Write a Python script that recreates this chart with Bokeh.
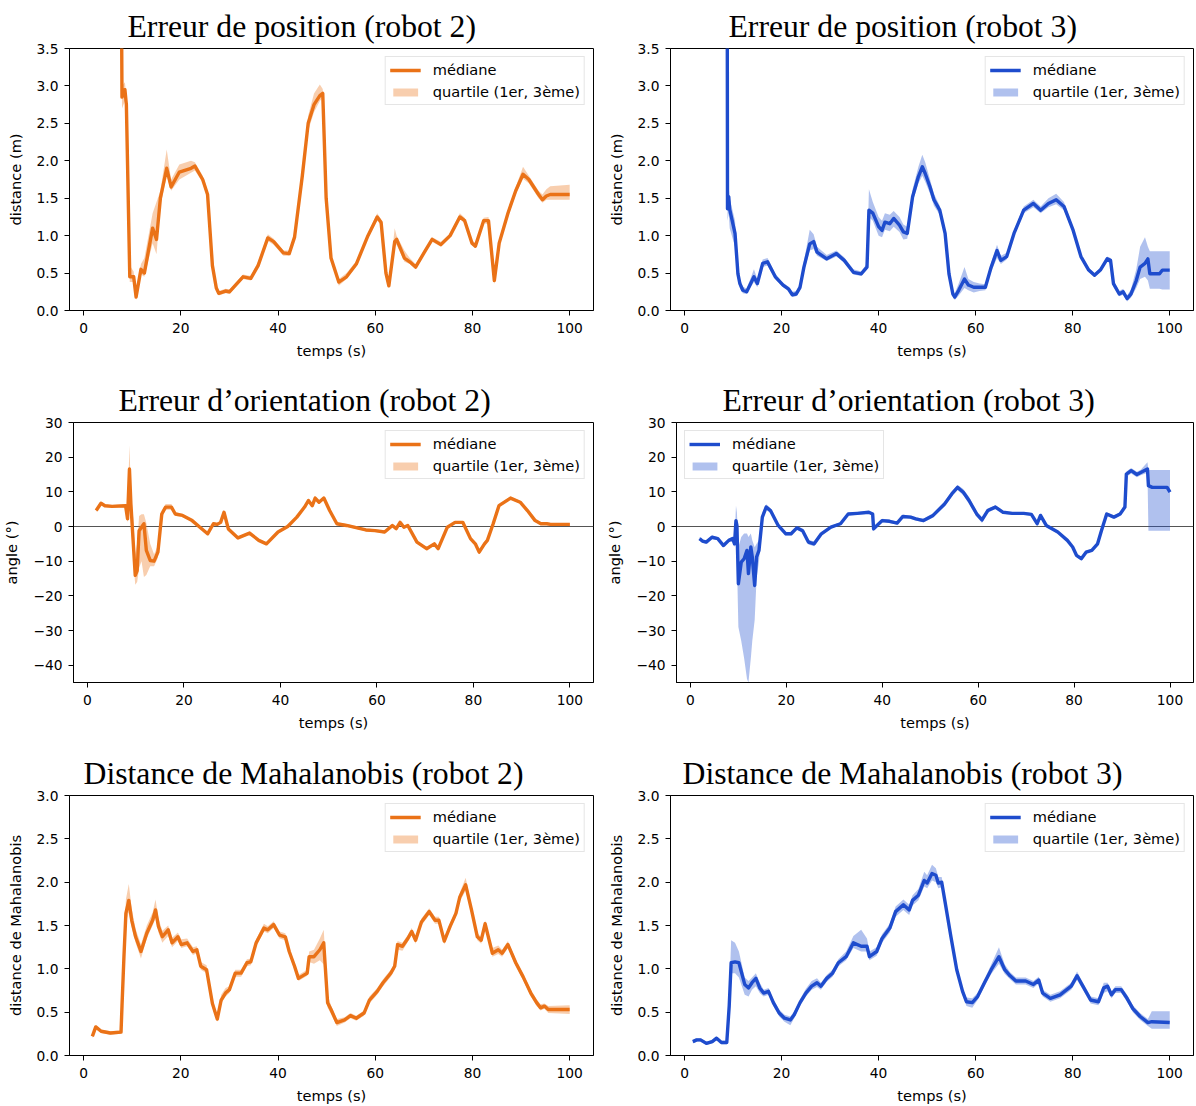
from bokeh.plotting import figure
from bokeh.layouts import column, row
from bokeh.models import (Range1d, FixedTicker, CustomJSTickFormatter, Legend,
                          LegendItem, Span, Title)
from bokeh.embed import file_html
from bokeh.resources import INLINE

# ---------------- data ----------------
x_ticks = [0, 20, 40, 60, 80, 100]
pos_ticks = [0.0, 0.5, 1.0, 1.5, 2.0, 2.5, 3.0, 3.5]
ang_ticks = [-40, -30, -20, -10, 0, 10, 20, 30]
mah_ticks = [0.0, 0.5, 1.0, 1.5, 2.0, 2.5, 3.0]

titles = ["Erreur de position (robot 2)", "Erreur de position (robot 3)",
          "Erreur d\u2019orientation (robot 2)", "Erreur d\u2019orientation (robot 3)",
          "Distance de Mahalanobis (robot 2)", "Distance de Mahalanobis (robot 3)"]
ylabels = ["distance (m)", "angle (\u00b0)", "distance de Mahalanobis"]
xlabel = "temps (s)"
lbl_med = "m\u00e9diane"
lbl_q = "quartile (1er, 3\u00e8me)"

# position error, robot 2
t_pos2 = [7.8, 7.9, 8.5, 8.8, 9.5, 10.3, 10.8, 11.8, 12.5, 14.2,
          15.0, 15.8, 17.1, 18.0, 19.7, 22.1, 22.9, 24.5, 25.5, 26.5,
          27.3, 27.8, 29.2, 30.0, 32.8, 34.4, 35.9, 37.9, 39.1, 41.1,
          42.3, 43.4, 45.0, 46.2, 47.4, 48.6, 49.2, 49.9, 50.9, 52.5,
          54.1, 56.1, 58.5, 60.4, 61.2, 62.2, 62.8, 64.0, 64.4, 66.0,
          67.1, 68.3, 70.3, 71.7, 73.5, 75.4, 77.4, 78.4, 79.9, 80.6,
          82.3, 83.3, 84.5, 85.5, 87.3, 88.9, 90.4, 91.6, 93.6, 94.4,
          95.2, 96.0, 100.0]
med_pos2 = [4.0, 2.85, 2.95, 2.75, 0.45, 0.45, 0.18, 0.55, 0.5, 1.1,
            0.95, 1.5, 1.9, 1.65, 1.85, 1.9, 1.93, 1.75, 1.55, 0.6,
            0.3, 0.23, 0.26, 0.25, 0.45, 0.43, 0.6, 0.97, 0.92, 0.77,
            0.76, 0.98, 1.8, 2.5, 2.75, 2.87, 2.9, 1.5, 0.7, 0.38,
            0.45, 0.62, 1.0, 1.25, 1.18, 0.5, 0.33, 0.92, 0.95, 0.7,
            0.65, 0.58, 0.8, 0.95, 0.88, 1.0, 1.25, 1.2, 0.9, 0.86,
            1.2, 1.2, 0.4, 0.9, 1.3, 1.6, 1.82, 1.75, 1.55, 1.48,
            1.53, 1.55, 1.55]
q1_pos2 = [3.8, 2.7, 2.8, 2.6, 0.38, 0.38, 0.14, 0.48, 0.45, 0.9,
           0.75, 1.4, 1.8, 1.6, 1.75, 1.84, 1.87, 1.71, 1.51, 0.55,
           0.27, 0.2, 0.23, 0.22, 0.42, 0.4, 0.57, 0.93, 0.88, 0.73,
           0.73, 0.95, 1.75, 2.4, 2.65, 2.8, 2.84, 1.45, 0.66, 0.33,
           0.42, 0.59, 0.97, 1.2, 1.14, 0.46, 0.3, 0.85, 0.88, 0.65,
           0.62, 0.55, 0.77, 0.92, 0.85, 0.97, 1.22, 1.17, 0.87, 0.83,
           1.17, 1.15, 0.35, 0.85, 1.25, 1.55, 1.76, 1.7, 1.5, 1.44,
           1.48, 1.48, 1.48]
q3_pos2 = [4.2, 3.0, 3.05, 2.85, 0.6, 0.52, 0.25, 0.62, 0.7, 1.3,
           1.45, 1.6, 2.15, 1.75, 1.95, 2.0, 1.98, 1.8, 1.6, 0.66,
           0.34, 0.26, 0.29, 0.28, 0.48, 0.46, 0.65, 1.02, 0.96, 0.8,
           0.8, 1.02, 1.85, 2.6, 2.9, 3.02, 2.96, 1.55, 0.75, 0.42,
           0.5, 0.66, 1.03, 1.3, 1.22, 0.55, 0.37, 1.1, 1.0, 0.8,
           0.7, 0.62, 0.83, 0.98, 0.92, 1.03, 1.3, 1.24, 0.94, 0.9,
           1.24, 1.25, 0.45, 0.95, 1.35, 1.65, 1.92, 1.8, 1.6, 1.55,
           1.62, 1.66, 1.68]

# position error, robot 3
t_pos3 = [8.8, 8.85, 9.1, 9.3, 10.4, 11.0, 11.4, 12.0, 12.8, 14.3,
          15.0, 16.1, 17.1, 18.7, 20.3, 21.4, 22.2, 23.0, 23.8, 24.6,
          25.8, 26.6, 27.3, 29.3, 31.3, 32.9, 34.8, 36.4, 37.6, 38.0,
          38.8, 40.0, 40.7, 41.3, 42.3, 43.1, 44.3, 45.1, 45.9, 47.0,
          48.2, 49.0, 49.6, 50.6, 51.4, 52.6, 53.7, 54.5, 55.3, 55.7,
          56.5, 57.7, 58.5, 59.6, 60.8, 62.0, 63.2, 64.4, 65.2, 66.4,
          67.9, 69.9, 71.9, 73.4, 75.0, 76.6, 78.2, 80.1, 81.7, 83.3,
          84.5, 85.7, 87.1, 87.8, 88.4, 89.6, 90.4, 91.2, 92.0, 93.1,
          93.9, 94.9, 95.5, 95.9, 97.9, 98.5, 100.0]
med_pos3 = [4.0, 1.36, 1.52, 1.35, 1.03, 0.49, 0.36, 0.27, 0.25, 0.45,
            0.36, 0.63, 0.65, 0.45, 0.34, 0.29, 0.21, 0.22, 0.31, 0.58,
            0.89, 0.92, 0.78, 0.69, 0.76, 0.67, 0.51, 0.49, 0.58, 1.34,
            1.3, 1.12, 1.07, 1.18, 1.16, 1.23, 1.14, 1.05, 1.03, 1.52,
            1.79, 1.92, 1.83, 1.65, 1.48, 1.34, 1.03, 0.49, 0.22, 0.18,
            0.27, 0.42, 0.34, 0.31, 0.31, 0.31, 0.58, 0.8, 0.67, 0.72,
            1.03, 1.34, 1.43, 1.34, 1.43, 1.48, 1.39, 1.07, 0.72, 0.54,
            0.47, 0.54, 0.69, 0.67, 0.36, 0.22, 0.25, 0.16, 0.22, 0.4,
            0.58, 0.63, 0.69, 0.49, 0.49, 0.54, 0.54]
q1_pos3 = [3.8, 1.2, 1.3, 1.1, 0.85, 0.42, 0.3, 0.23, 0.22, 0.38,
           0.31, 0.58, 0.6, 0.42, 0.31, 0.26, 0.18, 0.19, 0.27, 0.52,
           0.8, 0.82, 0.73, 0.66, 0.72, 0.64, 0.48, 0.46, 0.55, 1.25,
           1.2, 1.0, 0.98, 1.08, 1.06, 1.12, 1.05, 0.95, 0.96, 1.45,
           1.7, 1.8, 1.72, 1.56, 1.4, 1.28, 0.98, 0.45, 0.18, 0.14,
           0.2, 0.3, 0.27, 0.24, 0.26, 0.27, 0.52, 0.7, 0.62, 0.68,
           0.99, 1.3, 1.38, 1.3, 1.38, 1.42, 1.34, 1.03, 0.69, 0.51,
           0.45, 0.51, 0.65, 0.63, 0.32, 0.19, 0.21, 0.12, 0.17, 0.3,
           0.42, 0.45, 0.4, 0.29, 0.29, 0.28, 0.28]
q3_pos3 = [4.2, 1.6, 1.65, 1.5, 1.2, 0.6, 0.42, 0.32, 0.29, 0.55,
           0.42, 0.68, 0.7, 0.49, 0.37, 0.32, 0.25, 0.26, 0.36, 0.66,
           1.08, 1.02, 0.85, 0.74, 0.8, 0.71, 0.55, 0.52, 0.63, 1.62,
           1.45, 1.25, 1.2, 1.3, 1.28, 1.33, 1.25, 1.15, 1.12, 1.62,
           1.92, 2.08, 1.98, 1.75, 1.56, 1.4, 1.08, 0.55, 0.27, 0.23,
           0.36, 0.58, 0.42, 0.38, 0.36, 0.35, 0.64, 0.88, 0.73, 0.77,
           1.07, 1.39, 1.48, 1.39, 1.5, 1.56, 1.45, 1.11, 0.75, 0.57,
           0.5, 0.57, 0.72, 0.7, 0.4, 0.26, 0.29, 0.2, 0.28, 0.55,
           0.85, 0.98, 0.85, 0.79, 0.79, 0.79, 0.79]

# orientation error, robot 2
t_ori2 = [1.8, 2.8, 3.6, 5.1, 7.9, 8.3, 8.7, 9.0, 9.5, 9.9,
          10.3, 10.7, 11.2, 11.7, 12.2, 13.0, 13.8, 14.6, 15.4, 16.2,
          17.4, 18.2, 19.7, 21.7, 23.3, 24.9, 26.1, 26.9, 27.6, 28.3,
          29.2, 31.2, 33.6, 35.5, 37.1, 39.5, 41.5, 43.4, 45.0, 45.8,
          46.6, 47.2, 48.0, 49.0, 50.2, 51.7, 53.7, 57.7, 59.6, 61.6,
          63.2, 64.0, 64.8, 65.6, 66.4, 68.3, 70.3, 71.9, 72.7, 74.6,
          76.2, 77.8, 79.4, 80.4, 81.2, 82.3, 82.9, 84.1, 85.3, 87.7,
          89.7, 91.2, 92.8, 94.0, 95.2, 96.0, 100.0]
med_ori2 = [4.6, 6.7, 6.0, 5.8, 6.0, 2.2, 16.6, 6.5, -5.0, -14.1,
            -12.7, -1.2, -0.2, 0.8, -6.9, -9.8, -10.0, -7.4, 3.6, 5.6,
            5.6, 3.6, 3.2, 1.7, -0.2, -2.1, 0.8, 0.6, 1.2, 4.1,
            -0.7, -3.3, -1.9, -4.0, -5.0, -1.6, 0.0, 2.7, 5.6, 7.5,
            6.0, 8.2, 7.0, 8.2, 4.6, 0.8, 0.3, -1.0, -1.2, -1.6,
            0.3, -0.6, 1.2, -0.2, 0.3, -4.5, -6.4, -5.0, -6.4, -0.2,
            1.2, 1.2, -3.5, -5.0, -7.4, -5.0, -4.0, 0.8, 6.0, 8.2,
            7.0, 4.6, 1.7, 0.8, 0.8, 0.6, 0.6]
q1_ori2 = [4.2, 6.3, 5.6, 5.4, 5.5, 1.0, 10.0, 2.0, -10.0, -16.8,
           -16.0, -12.0, -10.0, -14.6, -14.0, -11.5, -11.5, -9.0, 2.5, 4.8,
           4.8, 3.0, 2.8, 1.3, -0.6, -2.5, 0.3, 0.2, 0.8, 3.5,
           -1.2, -3.7, -2.3, -4.4, -5.4, -2.0, -0.4, 2.3, 5.1, 7.0,
           5.5, 7.7, 6.5, 7.7, 4.2, 0.4, -0.1, -1.4, -1.6, -2.0,
           -0.2, -1.0, 0.7, -0.6, -0.1, -4.9, -6.8, -5.4, -6.8, -0.6,
           0.8, 0.8, -3.9, -5.4, -7.9, -5.4, -4.4, 0.4, 5.6, 7.8,
           6.6, 4.2, 1.3, 0.4, 0.4, 0.2, 0.2]
q3_ori2 = [5.0, 7.1, 6.4, 6.2, 6.5, 4.0, 23.5, 10.0, 2.0, -8.0,
           -5.0, 3.0, 3.5, 3.5, 1.0, -5.0, -8.0, -5.5, 4.6, 6.5,
           6.5, 4.2, 3.6, 2.1, 0.2, -1.7, 1.3, 1.0, 1.6, 4.7,
           -0.2, -2.9, -1.5, -3.6, -4.6, -1.2, 0.4, 3.1, 6.1, 8.0,
           6.5, 8.7, 7.5, 8.7, 5.0, 1.2, 0.7, -0.6, -0.8, -1.2,
           0.8, -0.2, 1.7, 0.2, 0.7, -4.1, -6.0, -4.6, -6.0, 0.2,
           1.6, 1.6, -3.1, -4.6, -6.9, -4.6, -3.6, 1.2, 6.4, 8.6,
           7.4, 5.0, 2.1, 1.2, 1.2, 1.0, 1.0]

# orientation error, robot 3
t_ori3 = [1.9, 2.5, 3.3, 4.5, 5.7, 6.9, 8.0, 8.8, 9.2, 9.5,
          9.7, 10.0, 10.6, 11.2, 11.8, 12.1, 12.6, 12.9, 13.4, 13.8,
          14.3, 15.0, 15.8, 16.7, 18.3, 19.9, 21.0, 22.2, 23.4, 24.6,
          25.8, 27.3, 29.3, 31.3, 32.9, 34.8, 37.2, 38.0, 38.2, 38.9,
          40.0, 41.5, 43.1, 44.3, 45.9, 47.0, 48.6, 50.6, 53.0, 54.5,
          55.7, 56.9, 58.1, 59.7, 60.8, 62.0, 63.6, 65.2, 67.1, 69.5,
          71.1, 72.3, 73.0, 74.2, 76.6, 78.6, 79.7, 80.5, 81.5, 82.5,
          83.7, 84.9, 85.7, 86.8, 88.3, 89.6, 90.6, 90.9, 91.9, 93.1,
          93.9, 95.3, 95.5, 96.3, 99.4, 100.0]
med_ori3 = [-3.5, -4.2, -4.5, -3.1, -3.5, -5.5, -4.0, -3.5, -5.0, 1.7,
            0.3, -16.5, -10.3, -9.3, -6.9, -13.6, -5.9, -8.8, -17.0, -8.8,
            -6.9, 2.7, 5.6, 4.6, 0.3, -2.1, -2.1, -0.4, -1.2, -4.5,
            -5.0, -2.1, -0.2, 0.8, 3.6, 3.8, 4.1, 3.6, -0.7, 0.3,
            1.7, 1.5, 1.0, 2.9, 2.7, 2.2, 1.7, 3.2, 6.5, 9.4,
            11.3, 9.9, 7.5, 3.6, 1.9, 4.6, 5.6, 4.1, 3.8, 3.8,
            3.5, 0.8, 3.2, 0.3, -1.6, -4.0, -5.9, -8.3, -9.3, -7.4,
            -6.9, -5.0, -1.2, 3.6, 2.7, 3.6, 5.6, 15.1, 16.1, 15.0,
            15.6, 16.6, 11.8, 11.3, 11.3, 9.9]
q1_ori3 = [-4.0, -4.7, -5.0, -3.6, -4.0, -6.0, -4.5, -4.0, -6.0, -3.0,
           -10.0, -29.0, -33.0, -38.0, -44.0, -45.0, -38.0, -33.0, -27.0, -15.0,
           -10.0, 1.5, 4.8, 3.9, -0.3, -2.6, -2.6, -0.9, -1.8, -5.2,
           -5.7, -2.6, -0.6, 0.4, 3.2, 3.4, 3.7, 3.2, -1.3, -0.2,
           1.2, 1.0, 0.6, 2.4, 2.2, 1.7, 1.2, 2.6, 5.8, 8.7,
           10.5, 9.0, 6.5, 2.8, 1.0, 4.0, 5.1, 3.7, 3.4, 3.4,
           3.1, 0.2, 2.7, -0.2, -2.0, -4.4, -6.3, -8.7, -9.8, -7.8,
           -7.3, -5.4, -1.6, 3.1, 2.2, 3.1, 5.0, 14.3, 15.3, 14.2,
           14.8, 15.5, -1.2, -1.2, -1.2, -1.2]
q3_ori3 = [-3.0, -3.7, -4.0, -2.6, -3.0, -5.0, -3.5, -3.0, -4.0, 6.0,
           4.0, -6.0, -3.0, -2.0, -2.0, -3.0, -2.0, -4.0, -6.0, -5.0,
           -4.0, 4.0, 6.4, 5.3, 0.9, -1.6, -1.6, 0.1, -0.6, -3.8,
           -4.3, -1.6, 0.2, 1.2, 4.0, 4.2, 4.5, 4.0, -0.1, 0.8,
           2.2, 2.0, 1.4, 3.4, 3.2, 2.7, 2.2, 3.8, 7.2, 10.1,
           12.0, 10.8, 8.5, 4.4, 2.6, 5.2, 6.1, 4.5, 4.2, 4.2,
           3.9, 1.4, 3.7, 0.8, -1.2, -3.6, -5.5, -7.9, -8.8, -7.0,
           -6.5, -4.6, -0.8, 4.1, 3.2, 4.1, 6.2, 15.9, 16.9, 15.8,
           16.4, 18.5, 16.3, 16.3, 16.3, 16.3]

# Mahalanobis distance, robot 2
t_mah2 = [1.8, 2.5, 3.6, 5.5, 7.7, 7.9, 8.3, 8.7, 9.3, 9.9,
          10.7, 11.8, 13.0, 14.2, 14.8, 15.4, 16.2, 17.4, 18.2, 19.4,
          20.1, 21.3, 22.5, 23.3, 24.1, 25.3, 26.5, 27.5, 28.3, 29.2,
          30.0, 31.2, 32.4, 33.6, 34.4, 35.5, 37.1, 37.9, 39.1, 40.3,
          41.5, 42.3, 43.4, 44.2, 45.4, 46.0, 46.4, 47.4, 48.6, 49.4,
          50.2, 50.9, 52.1, 53.7, 54.9, 56.1, 57.7, 58.8, 60.4, 61.6,
          63.2, 64.0, 64.6, 65.6, 66.7, 67.5, 68.3, 69.5, 71.1, 72.3,
          73.1, 74.2, 75.4, 76.6, 77.4, 78.6, 79.8, 81.0, 81.8, 82.6,
          84.1, 85.3, 86.1, 87.3, 88.9, 90.4, 92.0, 93.2, 94.0, 94.8,
          95.6, 100.0]
med_mah2 = [0.22, 0.33, 0.28, 0.26, 0.27, 0.57, 1.14, 1.64, 1.79, 1.56,
            1.37, 1.2, 1.41, 1.56, 1.68, 1.49, 1.37, 1.45, 1.3, 1.37,
            1.28, 1.3, 1.2, 1.22, 1.03, 0.99, 0.6, 0.42, 0.64, 0.72,
            0.76, 0.95, 0.95, 1.07, 1.08, 1.3, 1.47, 1.45, 1.51, 1.39,
            1.37, 1.2, 1.03, 0.89, 0.93, 0.95, 1.14, 1.14, 1.22, 1.3,
            0.61, 0.53, 0.38, 0.41, 0.46, 0.43, 0.49, 0.64, 0.74, 0.84,
            0.95, 1.03, 1.28, 1.26, 1.35, 1.43, 1.33, 1.54, 1.66, 1.56,
            1.56, 1.32, 1.49, 1.64, 1.83, 1.97, 1.68, 1.37, 1.33, 1.52,
            1.18, 1.22, 1.18, 1.28, 1.07, 0.91, 0.72, 0.61, 0.55, 0.57,
            0.53, 0.53]
q1_mah2 = [0.2, 0.31, 0.26, 0.24, 0.25, 0.5, 1.05, 1.55, 1.65, 1.48,
           1.3, 1.12, 1.35, 1.5, 1.58, 1.42, 1.3, 1.38, 1.25, 1.32,
           1.24, 1.26, 1.16, 1.18, 0.99, 0.95, 0.56, 0.39, 0.6, 0.68,
           0.72, 0.91, 0.91, 1.03, 1.04, 1.26, 1.43, 1.41, 1.47, 1.35,
           1.33, 1.16, 0.99, 0.86, 0.9, 0.92, 1.08, 1.06, 1.1, 1.05,
           0.55, 0.48, 0.34, 0.38, 0.43, 0.4, 0.46, 0.6, 0.7, 0.8,
           0.91, 0.99, 1.22, 1.21, 1.31, 1.39, 1.29, 1.5, 1.62, 1.52,
           1.52, 1.28, 1.45, 1.6, 1.78, 1.9, 1.63, 1.33, 1.29, 1.48,
           1.14, 1.17, 1.14, 1.24, 1.03, 0.87, 0.68, 0.57, 0.52, 0.54,
           0.49, 0.48]
q3_mah2 = [0.24, 0.35, 0.3, 0.28, 0.29, 0.65, 1.25, 1.8, 1.98, 1.7,
           1.46, 1.28, 1.5, 1.65, 1.8, 1.58, 1.44, 1.5, 1.36, 1.42,
           1.34, 1.35, 1.25, 1.26, 1.08, 1.04, 0.65, 0.46, 0.7, 0.78,
           0.8, 0.99, 0.99, 1.11, 1.12, 1.34, 1.52, 1.49, 1.55, 1.43,
           1.41, 1.24, 1.07, 0.93, 0.97, 0.99, 1.2, 1.22, 1.35, 1.45,
           0.7, 0.58, 0.42, 0.44, 0.49, 0.46, 0.52, 0.68, 0.78, 0.88,
           0.99, 1.07, 1.32, 1.3, 1.39, 1.47, 1.37, 1.58, 1.7, 1.6,
           1.6, 1.36, 1.53, 1.68, 1.88, 2.05, 1.73, 1.41, 1.37, 1.56,
           1.24, 1.27, 1.22, 1.32, 1.11, 0.95, 0.76, 0.65, 0.59, 0.6,
           0.57, 0.58]

# Mahalanobis distance, robot 3
t_mah3 = [1.7, 2.5, 3.3, 4.5, 5.7, 6.6, 7.6, 8.7, 9.2, 9.6,
          10.4, 11.2, 12.4, 13.2, 13.9, 14.7, 15.5, 16.3, 17.3, 18.3,
          19.5, 20.6, 21.8, 22.6, 23.8, 25.0, 26.2, 27.3, 28.1, 29.3,
          30.5, 31.7, 33.3, 34.8, 36.4, 37.6, 38.1, 39.6, 40.7, 42.3,
          43.5, 45.1, 46.3, 47.0, 48.2, 49.4, 50.0, 51.0, 51.8, 52.3,
          53.0, 53.7, 54.9, 56.1, 57.3, 58.1, 59.3, 60.4, 62.0, 63.2,
          64.8, 66.0, 67.1, 68.3, 70.3, 71.9, 73.0, 73.8, 75.4, 77.4,
          79.7, 80.9, 82.1, 83.7, 85.3, 86.4, 87.2, 88.0, 88.8, 90.0,
          91.2, 92.4, 93.9, 95.5, 96.3, 100.0]
med_mah3 = [0.16, 0.18, 0.18, 0.14, 0.16, 0.2, 0.15, 0.15, 0.57, 1.07,
            1.08, 1.07, 0.82, 0.78, 0.84, 0.89, 0.78, 0.72, 0.74, 0.61,
            0.49, 0.43, 0.41, 0.47, 0.61, 0.72, 0.8, 0.84, 0.8, 0.89,
            0.95, 1.07, 1.14, 1.3, 1.26, 1.26, 1.14, 1.2, 1.35, 1.47,
            1.66, 1.74, 1.68, 1.79, 1.85, 2.02, 1.99, 2.1, 2.08, 1.99,
            2.0, 1.77, 1.37, 0.99, 0.74, 0.62, 0.61, 0.68, 0.86, 0.99,
            1.14, 0.99, 0.92, 0.86, 0.86, 0.82, 0.87, 0.72, 0.66, 0.7,
            0.8, 0.92, 0.8, 0.64, 0.62, 0.78, 0.8, 0.7, 0.76, 0.76,
            0.66, 0.54, 0.45, 0.38, 0.39, 0.38]
q1_mah3 = [0.14, 0.16, 0.16, 0.12, 0.14, 0.18, 0.13, 0.13, 0.5, 0.95,
           0.95, 0.9, 0.7, 0.68, 0.76, 0.8, 0.72, 0.68, 0.7, 0.57,
           0.45, 0.39, 0.35, 0.43, 0.57, 0.68, 0.76, 0.79, 0.76, 0.85,
           0.91, 1.03, 1.1, 1.24, 1.2, 1.2, 1.1, 1.15, 1.3, 1.42,
           1.6, 1.68, 1.62, 1.73, 1.79, 1.95, 1.93, 2.02, 2.0, 1.93,
           1.94, 1.72, 1.33, 0.95, 0.7, 0.57, 0.55, 0.64, 0.82, 0.94,
           1.06, 0.94, 0.88, 0.82, 0.82, 0.78, 0.83, 0.68, 0.62, 0.66,
           0.76, 0.87, 0.76, 0.6, 0.58, 0.72, 0.74, 0.66, 0.72, 0.72,
           0.62, 0.5, 0.41, 0.34, 0.31, 0.31]
q3_mah3 = [0.18, 0.2, 0.2, 0.16, 0.18, 0.22, 0.17, 0.17, 0.7, 1.33,
           1.3, 1.2, 0.9, 0.86, 0.9, 0.95, 0.84, 0.76, 0.78, 0.65,
           0.53, 0.47, 0.45, 0.51, 0.65, 0.77, 0.86, 0.89, 0.84, 0.93,
           0.99, 1.11, 1.2, 1.38, 1.45, 1.35, 1.2, 1.25, 1.4, 1.52,
           1.72, 1.8, 1.74, 1.85, 1.92, 2.12, 2.08, 2.2, 2.16, 2.06,
           2.06, 1.82, 1.41, 1.03, 0.78, 0.67, 0.66, 0.72, 0.9, 1.05,
           1.25, 1.05, 0.96, 0.9, 0.9, 0.86, 0.91, 0.76, 0.7, 0.74,
           0.84, 0.97, 0.84, 0.68, 0.66, 0.84, 0.84, 0.74, 0.8, 0.8,
           0.7, 0.58, 0.49, 0.42, 0.51, 0.51]

ORANGE = "#ea7217"
BLUE = "#1e4ccd"
FONT = "DejaVu Sans"
FS_TICK = "13.8px"
FS_LAB = "14.6px"

dec_fmt = CustomJSTickFormatter(code="return tick.toFixed(1);")
ang_fmt = CustomJSTickFormatter(code="return tick < 0 ? '\u2212' + Math.abs(tick).toFixed(0) : tick.toFixed(0);")


def panel(t, med, q1, q3, color, title, title_off, ylabel, yr, yticks, fmt, loc,
          left_col, height, top_b, bot_b, zero=False):
    assert len(t) == len(med) == len(q1) == len(q3)
    if left_col:
        width, mbl, mbr = 603, 69, 10
    else:
        width, mbl, mbr = 593, 67, 3
    p = figure(width=width, height=height, output_backend="svg",
               toolbar_location=None, tools="",
               x_range=Range1d(-2.9, 104.9), y_range=Range1d(*yr),
               min_border_left=mbl, min_border_right=mbr,
               min_border_top=top_b, min_border_bottom=bot_b)
    p.title = Title(text=title, align="left", offset=title_off,
                    text_font="Liberation Serif", text_font_size="31.7px",
                    text_font_style="normal", text_color="black", standoff=10)
    p.xgrid.visible = False
    p.ygrid.visible = False
    p.outline_line_color = "black"
    p.outline_line_alpha = 1.0
    p.outline_line_width = 1
    p.background_fill_color = "white"
    p.border_fill_color = "white"

    if zero:
        p.add_layout(Span(location=0, dimension="width", line_color="#555555",
                          line_width=1, level="underlay"))

    br = p.varea(x=t, y1=q1, y2=q3, fill_color=color, fill_alpha=0.35)
    lr = p.line(t, med, line_color=color, line_width=3.4, line_join="round")

    p.xaxis.ticker = FixedTicker(ticks=x_ticks)
    p.yaxis.ticker = FixedTicker(ticks=yticks)
    p.yaxis.formatter = fmt
    p.xaxis.axis_label = xlabel
    p.yaxis.axis_label = ylabel
    for ax in (p.xaxis[0], p.yaxis[0]):
        ax.axis_line_color = "black"
        ax.major_tick_line_color = "black"
        ax.major_tick_out = 5
        ax.major_tick_in = 0
        ax.minor_tick_line_color = None
        ax.major_label_text_font = FONT
        ax.major_label_text_font_size = FS_TICK
        ax.major_label_text_color = "black"
        ax.axis_label_text_font = FONT
        ax.axis_label_text_font_size = FS_LAB
        ax.axis_label_text_font_style = "normal"
        ax.axis_label_text_color = "black"
    p.xaxis.major_label_standoff = 7
    p.xaxis.axis_label_standoff = 6
    p.yaxis.major_label_standoff = 6
    p.yaxis.axis_label_standoff = 10

    leg = Legend(items=[LegendItem(label=lbl_med, renderers=[lr]),
                        LegendItem(label=lbl_q, renderers=[br])],
                 location=loc, margin=8, padding=4, spacing=5,
                 glyph_width=31, glyph_height=10, label_height=17,
                 label_standoff=12,
                 label_text_font=FONT, label_text_font_size=FS_LAB,
                 label_text_color="black",
                 border_line_color="#cccccc", border_line_width=1,
                 background_fill_color="white", background_fill_alpha=0.8)
    p.add_layout(leg)
    return p


p1 = panel(t_pos2, med_pos2, q1_pos2, q3_pos2, ORANGE, titles[0], 58, ylabels[0],
           (0, 3.5), pos_ticks, dec_fmt, "top_right", True, 370, 48, 60)
p2 = panel(t_pos3, med_pos3, q1_pos3, q3_pos3, BLUE, titles[1], 58, ylabels[0],
           (0, 3.5), pos_ticks, dec_fmt, "top_right", False, 370, 48, 60)
p3 = panel(t_ori2, med_ori2, q1_ori2, q3_ori2, ORANGE, titles[2], 45, ylabels[1],
           (-45, 30), ang_ticks, ang_fmt, "top_right", True, 370, 52, 58, zero=True)
p4 = panel(t_ori3, med_ori3, q1_ori3, q3_ori3, BLUE, titles[3], 46, ylabels[1],
           (-45, 30), ang_ticks, ang_fmt, "top_left", False, 370, 52, 58, zero=True)
p5 = panel(t_mah2, med_mah2, q1_mah2, q3_mah2, ORANGE, titles[4], 14, ylabels[2],
           (0, 3.0), mah_ticks, dec_fmt, "top_right", True, 366, 55, 51)
p6 = panel(t_mah3, med_mah3, q1_mah3, q3_mah3, BLUE, titles[5], 12, ylabels[2],
           (0, 3.0), mah_ticks, dec_fmt, "top_right", False, 366, 55, 51)

layout = column(row(p1, p2), row(p3, p4), row(p5, p6))

open("out.html", "w").write(file_html(layout, INLINE))
